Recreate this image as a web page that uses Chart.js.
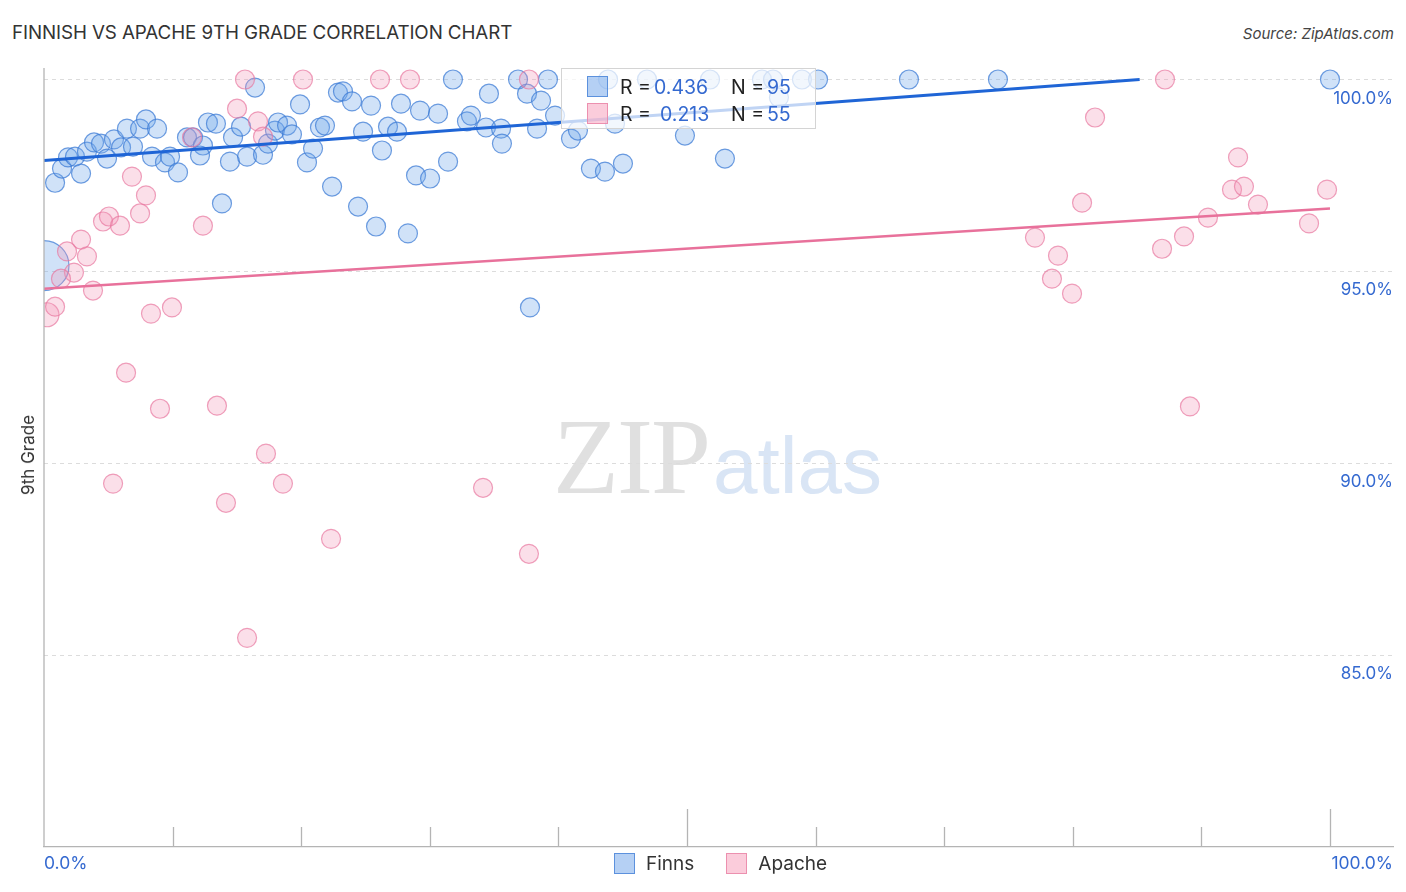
<!DOCTYPE html>
<html>
<head>
<meta charset="utf-8">
<script src="https://cdn.jsdelivr.net/npm/chart.js@4.4.1/dist/chart.umd.min.js"></script>
<style>
  html,body{margin:0;padding:0;background:#fff;}
  body{width:1406px;height:892px;position:relative;overflow:hidden;font-family:Inter,"Noto Sans",sans-serif;color:#333;}
  #title{position:absolute;left:12px;top:21px;font-size:18.8px;letter-spacing:-0.1px;color:#333;white-space:nowrap;}
  #source{position:absolute;right:12px;top:24px;font-size:15px;font-style:italic;color:#444;}
  #wm{position:absolute;left:553px;top:395px;white-space:nowrap;}
  #wm .zip{font-family:"Liberation Serif","DejaVu Serif",serif;font-size:108px;color:#e0e0e0;letter-spacing:-2px;}
  #wm .atlas{font-family:"Liberation Sans",Arial,sans-serif;font-size:80px;color:#d9e5f5;margin-left:4px;}
  #wrap{position:absolute;left:0;top:0;width:1406px;height:892px;}
  #ytitle{position:absolute;left:28px;top:455px;transform:translate(-50%,-50%) rotate(-90deg);font-size:17px;color:#333;white-space:nowrap;}
  #stats{position:absolute;left:561px;top:68px;width:255px;height:61px;border:1px solid #d4d4d4;background:rgba(255,255,255,0.72);box-sizing:border-box;}
  #stats .row{position:absolute;left:25px;height:24px;font-size:19.5px;line-height:24px;white-space:nowrap;}
  #stats .sq{position:absolute;left:0;top:1px;width:21px;height:21px;box-sizing:border-box;}
  #stats .k{position:absolute;color:#222;}
  #stats .v{position:absolute;color:#3469d0;}
  #legend{position:absolute;top:852px;left:614px;font-size:19px;color:#333;white-space:nowrap;}
  #legend .item{display:inline-flex;align-items:center;margin-right:32px;}
  #legend .sq{width:21px;height:21px;box-sizing:border-box;margin-right:11px;display:inline-block;}
</style>
</head>
<body>
<div id="title">FINNISH VS APACHE 9TH GRADE CORRELATION CHART</div>
<div id="source">Source: ZipAtlas.com</div>
<div id="wm"><span class="zip">ZIP</span><span class="atlas">atlas</span></div>
<div id="wrap"><canvas id="c" width="1406" height="892"></canvas></div>
<div id="ytitle">9th Grade</div>
<div id="stats"></div>
<div id="legend"></div>
<script>
// Finns vs Apache – 9th grade correlation scatter
const seriesNames = ['Finns', 'Apache'];
const statR = ['0.436', '0.213'];
const statN = ['95', '55'];

const yTicks = [85, 90, 95, 100];
const xTicks = [0, 10, 20, 30, 40, 50, 60, 70, 80, 90, 100];
const xLabels = ['0.0%', '100.0%'];

// Finns points (x = % Apache share, y = 9th grade %)
const finnsX = [0.86,1.40,1.87,2.41,2.88,3.34,3.89,4.43,4.90,5.44,5.99,6.45,6.92,7.47,7.93,8.79,8.40,9.41,9.80,10.42,
  11.12,11.59,12.36,12.13,12.75,13.37,13.84,14.46,14.70,15.32,15.79,16.41,17.03,17.42,17.96,18.20,18.90,19.28,19.91,20.45,
  20.92,21.46,21.85,22.40,22.86,23.25,23.95,24.42,24.81,25.43,25.82,26.28,26.75,27.45,27.76,28.30,28.93,29.24,30.02,30.64,
  31.42,31.80,32.89,33.20,34.37,34.60,35.54,35.61,36.86,37.56,37.79,38.34,38.65,39.19,39.74,40.98,41.52,42.53,43.62,44.40,
  45.02,43.86,46.89,49.84,51.79,52.95,55.83,56.69,57.15,58.94,60.19,67.26,74.18,100.0];
const finnsY = [97.31,97.68,97.97,97.99,97.55,98.12,98.36,98.33,97.94,98.44,98.23,98.72,98.25,98.72,98.96,98.72,97.99,97.84,97.99,97.58,
  98.49,98.49,98.28,98.02,98.88,98.85,96.77,97.86,98.49,98.77,97.99,99.79,98.04,98.33,98.67,98.88,98.80,98.57,99.35,97.84,
  98.20,98.75,98.80,97.21,99.66,99.69,99.43,96.69,98.64,99.32,96.17,98.15,98.77,98.64,99.37,95.99,97.50,99.19,97.42,99.11,
  97.86,100.0,98.91,99.06,98.75,99.63,98.72,98.33,100.0,99.63,94.06,98.72,99.45,100.0,99.06,98.46,98.67,97.68,97.60,98.85,
  97.81,100.0,100.0,98.54,100.0,97.94,100.0,100.0,99.53,100.0,100.0,100.0,100.0,100.0];
const finnsBigX = [0.0];
const finnsBigY = [95.15];

// Apache points
const apacheX = [15.63,20.14,26.13,28.46,37.71,87.17,15.01,16.64,17.03,11.51,6.84,7.93,7.47,4.59,5.05,5.91,12.36,81.73,
  2.88,1.79,3.34,2.33,1.32,3.81,0.86,8.32,9.95,6.38,9.02,13.45,17.26,5.37,18.58,14.15,22.32,34.14,37.71,15.79,89.11,
  92.85,92.38,93.31,99.77,80.72,94.40,90.51,98.37,77.06,88.65,86.94,78.85,78.38,79.94];
const apacheY = [100.0,100.0,100.0,100.0,100.0,100.0,99.24,98.91,98.51,98.49,97.47,96.98,96.51,96.30,96.43,96.19,96.19,99.01,
  95.83,95.52,95.39,94.97,94.81,94.50,94.08,93.90,94.06,92.36,91.42,91.50,90.25,89.47,89.47,88.97,88.03,89.36,87.64,85.45,91.48,
  97.97,97.13,97.21,97.13,96.79,96.74,96.40,96.25,95.88,95.91,95.59,95.41,94.81,94.42];
const apacheBigX = [0.23];
const apacheBigY = [93.87];

// trend lines (end points)
const finnsTrendX = [0, 85.2];
const finnsTrendY = [97.89, 100.0];
const apacheTrendX = [0, 100];
const apacheTrendY = [94.55, 96.64];

const BLUE_FILL = 'rgba(110,165,232,0.32)', BLUE_EDGE = 'rgba(62,124,214,0.75)';
const PINK_FILL = 'rgba(243,150,182,0.30)', PINK_EDGE = 'rgba(232,120,160,0.70)';
const LABEL_BLUE = '#3469d0';

const pts = (xs, ys) => xs.map((x, i) => ({x, y: ys[i]}));

// legends (html)
const sw = (fill, edge) => `background:${fill};border:1.5px solid ${edge};`;
const swatches = [sw('rgba(120,170,235,0.55)', 'rgba(70,130,215,0.8)'), sw('rgba(248,170,195,0.6)', 'rgba(232,130,165,0.8)')];
document.getElementById('stats').innerHTML = statR.map((r, i) =>
  `<div class="row" style="top:${6 + i * 27}px"><span class="sq" style="${swatches[i]}"></span>` +
  `<span class="k" style="left:33px">R =</span><span class="v" style="left:${i ? 73 : 67}px">${r}</span>` +
  `<span class="k" style="left:144px">N =</span><span class="v" style="left:180px">${statN[i]}</span></div>`).join('');
document.getElementById('legend').innerHTML = seriesNames.map((n, i) =>
  `<span class="item"><span class="sq" style="${swatches[i]}"></span>${n}</span>`).join('');

const axisDecor = {
  id: 'axisDecor',
  afterDraw(chart) {
    const {ctx, chartArea: a, scales: {x}} = chart;
    ctx.save();
    ctx.strokeStyle = '#b4b4b4';
    ctx.lineWidth = 1.3;
    ctx.beginPath();
    ctx.moveTo(a.left, a.top); ctx.lineTo(a.left, a.bottom);
    xTicks.slice(1).forEach(v => {
      const px = Math.round(x.getPixelForValue(v)) + 0.5;
      const len = (v === 50 || v === 100) ? 38 : 20;
      ctx.moveTo(px, a.bottom); ctx.lineTo(px, a.bottom - len);
    });
    ctx.stroke();
    ctx.fillStyle = LABEL_BLUE;
    ctx.font = '17.5px Inter, "Noto Sans", sans-serif';
    ctx.textBaseline = 'middle';
    ctx.textAlign = 'left';
    ctx.fillText(xLabels[0], x.getPixelForValue(0), 864);
    ctx.textAlign = 'right';
    ctx.fillText(xLabels[1], a.right, 864);
    ctx.restore();
  }
};

new Chart(document.getElementById('c'), {
  type: 'scatter',
  data: {
    datasets: [
      {type: 'line', data: pts(finnsTrendX, finnsTrendY), borderColor: '#1f65d6', borderWidth: 3, pointRadius: 0, order: 0},
      {type: 'line', data: pts(apacheTrendX, apacheTrendY), borderColor: '#e8719b', borderWidth: 2.5, pointRadius: 0, order: 0},
      {data: pts(apacheX, apacheY), backgroundColor: PINK_FILL, borderColor: PINK_EDGE, borderWidth: 1.2, pointRadius: 9.5, order: 1},
      {data: pts(apacheBigX, apacheBigY), backgroundColor: PINK_FILL, borderColor: PINK_EDGE, borderWidth: 1.2, pointRadius: 12, order: 1},
      {data: pts(finnsX, finnsY), backgroundColor: BLUE_FILL, borderColor: BLUE_EDGE, borderWidth: 1.2, pointRadius: 9.5, order: 2},
      {data: pts(finnsBigX, finnsBigY), backgroundColor: BLUE_FILL, borderColor: BLUE_EDGE, borderWidth: 1.2, pointRadius: 25, order: 2}
    ]
  },
  options: {
    responsive: false, animation: false, maintainAspectRatio: false,
    layout: {autoPadding: false, padding: {left: 44, top: 68, right: 13, bottom: 37}},
    plugins: {legend: {display: false}, tooltip: {enabled: false}},
    scales: {
      x: {
        type: 'linear', min: 0, max: 104.9,
        afterBuildTicks: s => { s.ticks = xTicks.map(v => ({value: v})); },
        grid: {display: false},
        ticks: {display: false},
        border: {display: true, color: '#b4b4b4', width: 1.3}
      },
      y: {
        position: 'right', min: 80, max: 100.3,
        afterBuildTicks: s => { s.ticks = yTicks.map(v => ({value: v})); },
        afterFit: s => { s.width = 0; },
        grid: {color: '#dcdcdc', lineWidth: 1, drawTicks: false, borderDash: [4, 4]},
        border: {display: false, dash: [4, 4]},
        ticks: {
          mirror: true, padding: 0, labelOffset: 19, color: LABEL_BLUE,
          font: {family: 'Inter, "Noto Sans", sans-serif', size: 17},
          callback: v => v.toFixed(1) + '%'
        }
      }
    }
  },
  plugins: [axisDecor]
});
</script>
</body>
</html>
